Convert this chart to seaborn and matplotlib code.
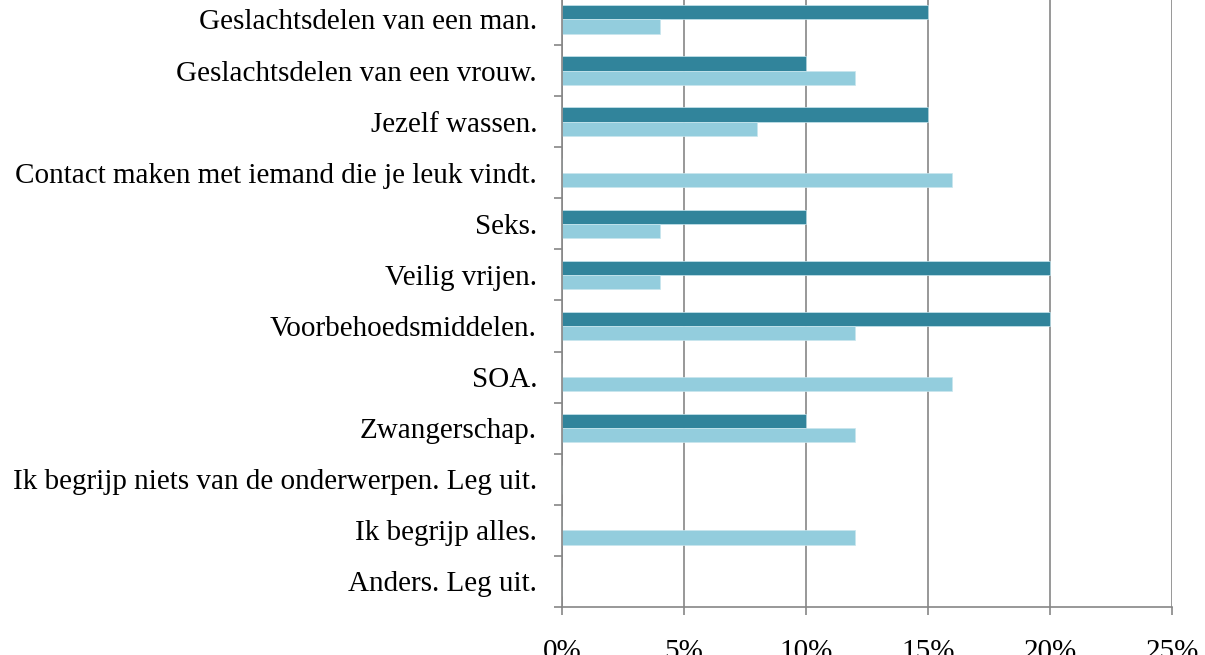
import seaborn as sns
import matplotlib.pyplot as plt
import pandas as pd
from matplotlib.ticker import FuncFormatter, FixedLocator

onderwerpen = [
    'Geslachtsdelen van een man.',
    'Geslachtsdelen van een vrouw.',
    'Jezelf wassen.',
    'Contact maken met iemand die je leuk vindt.',
    'Seks.',
    'Veilig vrijen.',
    'Voorbehoedsmiddelen.',
    'SOA.',
    'Zwangerschap.',
    'Ik begrijp niets van de onderwerpen. Leg uit.',
    'Ik begrijp alles.',
    'Anders. Leg uit.',
]
reeks_1 = [0.15, 0.10, 0.15, 0.0, 0.10, 0.20, 0.20, 0.0, 0.10, 0.0, 0.0, 0.0]
reeks_2 = [0.04, 0.12, 0.08, 0.16, 0.04, 0.04, 0.12, 0.16, 0.12, 0.0, 0.12, 0.0]
x_ticks = [0, 0.05, 0.10, 0.15, 0.20, 0.25]

df = pd.DataFrame({
    'onderwerp': onderwerpen * 2,
    'waarde': reeks_1 + reeks_2,
    'reeks': ['Reeks 1'] * len(onderwerpen) + ['Reeks 2'] * len(onderwerpen),
})

sns.set_style('white')
plt.rcParams['font.family'] = ['Liberation Serif', 'DejaVu Serif']

fig = plt.figure(figsize=(12.05, 6.55), dpi=100)
ax = fig.add_axes([0.4664, 0.0733, 0.5062, 0.936])

sns.barplot(
    data=df,
    x='waarde',
    y='onderwerp',
    hue='reeks',
    orient='h',
    palette=['#31849B', '#93CDDD'],
    saturation=1,
    width=0.56,
    edgecolor='#c8e6ee',
    linewidth=0.5,
    legend=False,
    ax=ax,
)

ax.set_xlim(0, 0.25)
ax.set_ylim(len(onderwerpen) - 0.5, -0.5)
ax.set_xticks(x_ticks)
ax.xaxis.set_major_formatter(FuncFormatter(lambda v, p: f'{v * 100:.0f}%'))
ax.grid(axis='x', color='#868686', linewidth=1.2)
ax.grid(axis='y', visible=False)
ax.set_axisbelow(True)

ax.yaxis.set_minor_locator(FixedLocator([i + 0.5 for i in range(len(onderwerpen))]))
ax.tick_params(axis='y', which='major', length=0, pad=18, labelsize=21,
               labelcolor='black')
ax.tick_params(axis='y', which='minor', left=True, length=6, color='#868686', width=1.2)
ax.tick_params(axis='x', bottom=True, length=6, color='#868686', width=1.2,
               pad=17, labelsize=21, labelcolor='black')

for side in ['top', 'right']:
    ax.spines[side].set_visible(False)
for side in ['left', 'bottom']:
    ax.spines[side].set_color('#868686')
    ax.spines[side].set_linewidth(1.2)

ax.set_xlabel('')
ax.set_ylabel('')

fig.savefig('out.png', dpi=100)
